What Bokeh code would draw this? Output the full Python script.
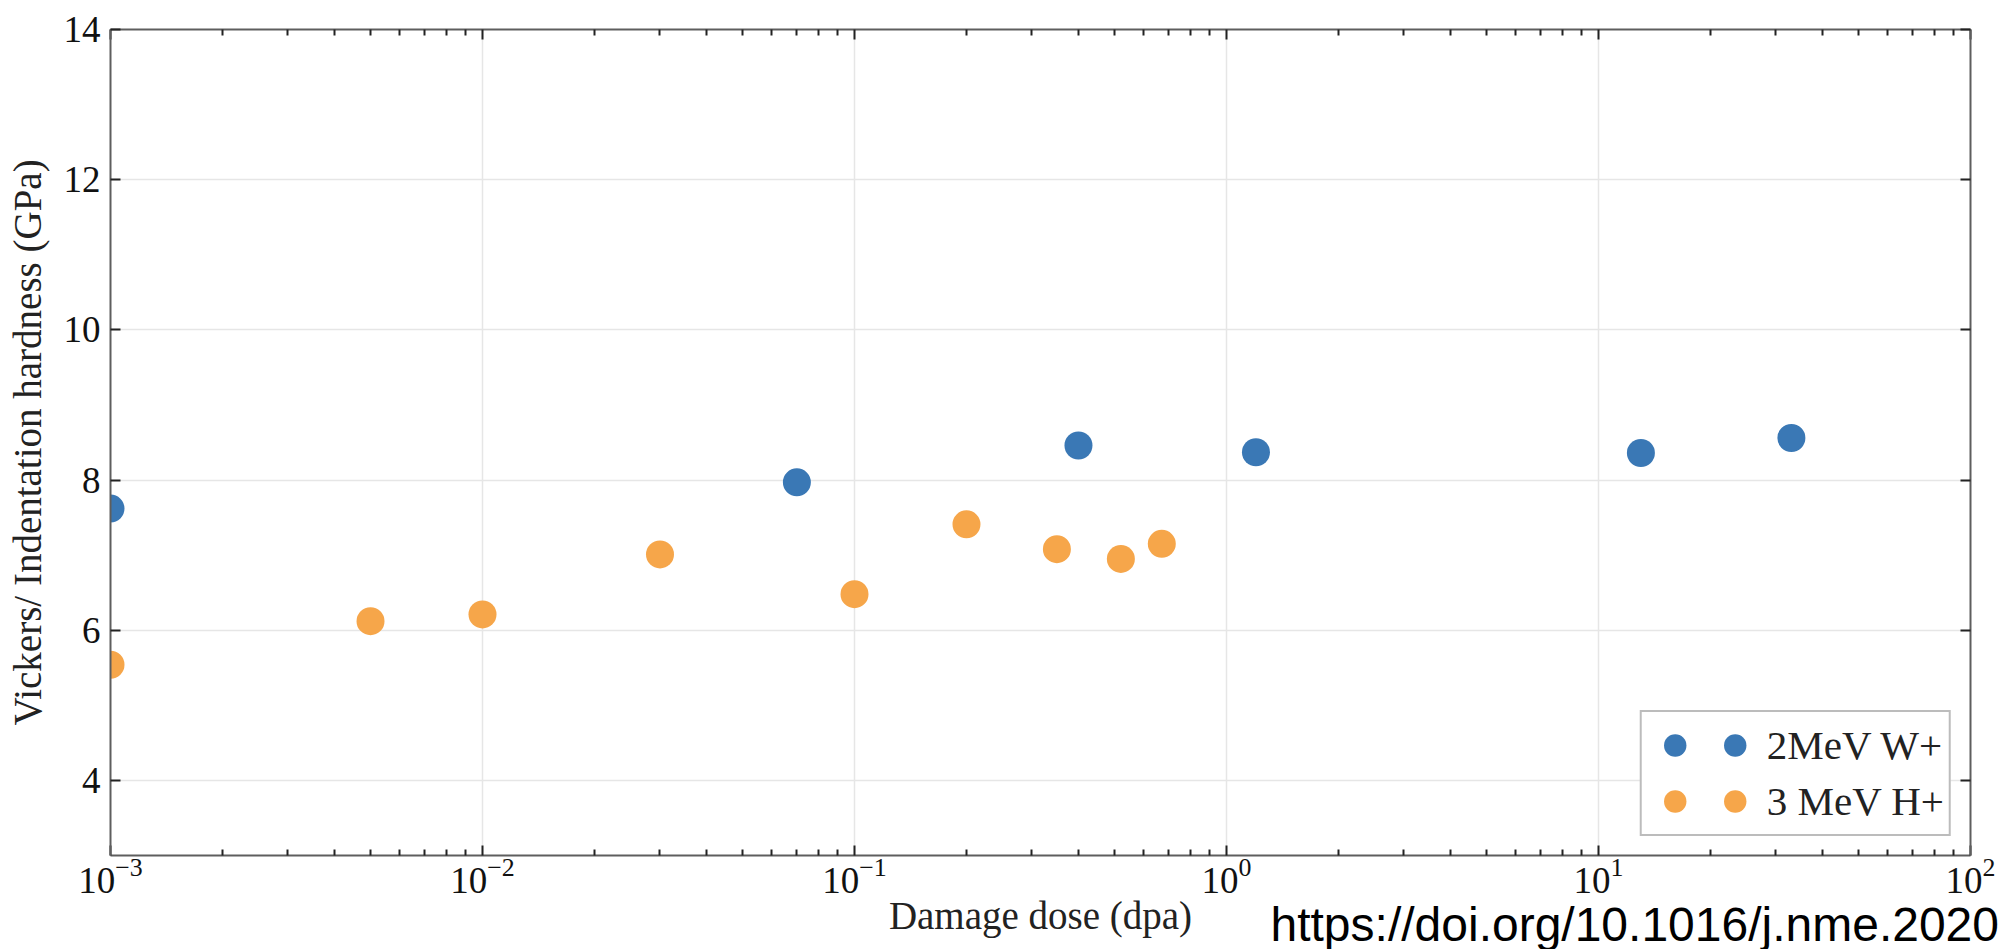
from bokeh.plotting import figure
from bokeh.models import (ColumnDataSource, Range1d, LinearAxis, LogAxis, FixedTicker,
                          Legend, LegendItem, Title, CustomJSTickFormatter)
from bokeh.core.properties import value
from bokeh.embed import file_html
from bokeh.resources import INLINE

# ---- data ----
w_dose = [0.001, 0.07, 0.4, 1.2, 13, 33]
w_hard = [7.62, 7.97, 8.46, 8.37, 8.36, 8.56]
h_dose = [0.001, 0.005, 0.01, 0.03, 0.1, 0.2, 0.35, 0.52, 0.67]
h_hard = [5.54, 6.12, 6.21, 7.01, 6.48, 7.41, 7.08, 6.95, 7.15]
w_label = "2MeV W+"
h_label = "3 MeV H+"
x_major = [1e-3, 1e-2, 1e-1, 1e0, 1e1, 1e2]
y_major = [4, 6, 8, 10, 12, 14]
x_title = "Damage dose (dpa)"
y_title = "Vickers/ Indentation hardness (GPa)"
doi_text = "https://doi.org/10.1016/j.nme.2020"

BLUE = "#3a78b5"
ORANGE = "#f6a64a"
SERIF = "Liberation Serif"
AXC = "#5e5e5e"

x_minor = [m * d for d in x_major[:-1] for m in range(2, 10)]

p = figure(width=2010, height=949, x_axis_type="log",
           x_range=Range1d(1e-3, 1e2), y_range=Range1d(3, 14),
           output_backend="svg", toolbar_location=None,
           min_border_left=110, min_border_right=40,
           min_border_top=29, min_border_bottom=94,
           background_fill_color="white", border_fill_color="white")
p.outline_line_color = None

xt = FixedTicker(ticks=x_major, minor_ticks=x_minor)
yt = FixedTicker(ticks=y_major)

def style(ax, labels=True):
    ax.axis_line_color = AXC
    ax.axis_line_width = 2
    ax.major_tick_in = 10
    ax.major_tick_out = 0
    ax.minor_tick_in = 6
    ax.minor_tick_out = 0
    ax.major_tick_line_color = "#222222"
    ax.major_tick_line_width = 2
    ax.minor_tick_line_color = "#222222"
    ax.minor_tick_line_width = 2
    ax.major_label_text_font = SERIF
    ax.major_label_text_font_size = "37px"
    ax.major_label_text_color = "#111111"
    ax.axis_label_text_font = SERIF
    ax.axis_label_text_font_size = "39px"
    ax.axis_label_text_font_style = "normal"
    ax.axis_label_text_color = "#222222"
    if not labels:
        ax.formatter = CustomJSTickFormatter(code="return ''")
        ax.major_label_standoff = 0

xa = p.xaxis[0]
xa.ticker = xt
style(xa)
xa.major_label_standoff = 2
xa.axis_label = x_title
xa.axis_label_standoff = -2

ya = p.yaxis[0]
ya.ticker = yt
style(ya)
ya.minor_tick_line_color = None
ya.major_label_standoff = 10
ya.axis_label = y_title
ya.axis_label_standoff = 12

top = LogAxis(ticker=xt)
style(top, labels=False)
p.add_layout(top, "above")
right = LinearAxis(ticker=yt)
style(right, labels=False)
right.minor_tick_line_color = None
p.add_layout(right, "right")

p.xgrid.ticker = xt
p.ygrid.ticker = yt
p.xgrid.grid_line_color = "#e6e6e6"
p.ygrid.grid_line_color = "#e6e6e6"
p.xgrid.grid_line_width = 1.5
p.ygrid.grid_line_width = 1.5

src_w = ColumnDataSource(dict(x=w_dose, y=w_hard))
src_h = ColumnDataSource(dict(x=h_dose, y=h_hard))
r_h = p.scatter(x="x", y="y", source=src_h, size=28, fill_color=ORANGE, line_color=None)
r_w = p.scatter(x="x", y="y", source=src_w, size=28, fill_color=BLUE, line_color=None)

# two markers per legend row (as in the reference): first column has marker only
legend = Legend(items=[LegendItem(label=value(""), renderers=[r_w]),
                       LegendItem(label=value(""), renderers=[r_h]),
                       LegendItem(label=value(w_label), renderers=[r_w]),
                       LegendItem(label=value(h_label), renderers=[r_h])],
                ncols=2, location="bottom_right", margin=19,
                glyph_width=56, glyph_height=56, label_height=50, label_width=0,
                label_standoff=4, spacing=0, padding=5,
                label_text_font=SERIF, label_text_font_size="41px",
                label_text_color="#222222",
                border_line_color="#7a7a7a", border_line_width=2,
                background_fill_color="white", background_fill_alpha=1.0)
p.add_layout(legend, "center")

doi = Title(text=doi_text + "\n", align="left", vertical_align="bottom",
            offset=1160, standoff=-87,
            text_font="Liberation Sans", text_font_size="48px",
            text_line_height=0.78,
            text_font_style="normal", text_color="black")
p.add_layout(doi, "below")

open("out.html", "w").write(file_html(p, INLINE))
